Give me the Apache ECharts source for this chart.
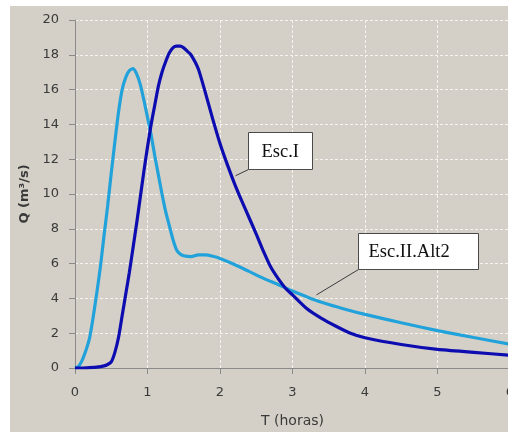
<!DOCTYPE html>
<html>
<head>
<meta charset="utf-8">
<script src="https://cdn.jsdelivr.net/npm/echarts@6/dist/echarts.min.js"></script>
<style>
html,body{margin:0;padding:0;background:#ffffff;width:508px;height:432px;overflow:hidden;}
#chart{position:absolute;left:10px;top:6px;width:498px;height:426px;background:#d4d0c8;}
</style>
</head>
<body>
<div id="chart"></div>
<script>
// Data (T in hours, Q in m3/s)
var tEscI = [0,0.1,0.2,0.3,0.4,0.45,0.5,0.55,0.6,0.65,0.7,0.75,0.8,0.85,0.9,0.95,1.0,1.05,1.1,1.15,1.2,1.25,1.3,1.35,1.4,1.45,1.5,1.55,1.6,1.7,1.8,1.9,2.0,2.1,2.2,2.3,2.4,2.5,2.6,2.7,2.8,2.9,3.0,3.2,3.4,3.6,3.8,4.0,4.5,5.0,5.5,6.0];
var qEscI = [0,0,0.02,0.05,0.12,0.2,0.35,0.9,1.75,3.0,4.25,5.5,6.9,8.3,9.8,11.3,12.7,14.0,15.1,16.2,17.0,17.6,18.1,18.4,18.5,18.5,18.4,18.2,18.0,17.2,15.8,14.3,12.9,11.7,10.6,9.6,8.65,7.7,6.7,5.8,5.15,4.6,4.2,3.4,2.85,2.4,2.0,1.74,1.35,1.07,0.9,0.73];

var tEscII = [0,0.05,0.1,0.15,0.2,0.25,0.3,0.35,0.4,0.45,0.5,0.55,0.6,0.65,0.7,0.75,0.8,0.85,0.9,0.95,1.0,1.05,1.1,1.15,1.2,1.25,1.3,1.35,1.4,1.45,1.5,1.6,1.7,1.8,1.9,2.0,2.2,2.4,2.6,2.8,3.0,3.25,3.5,3.75,4.0,4.5,5.0,5.5,6.0];
var qEscII = [0,0.1,0.45,1.0,1.7,2.9,4.3,5.8,7.6,9.3,11.2,13.0,14.7,16.0,16.7,17.1,17.2,16.9,16.3,15.4,14.4,13.4,12.2,11.1,10.0,9.0,8.2,7.4,6.8,6.55,6.45,6.4,6.5,6.5,6.42,6.3,5.95,5.55,5.15,4.8,4.42,4.0,3.65,3.35,3.08,2.6,2.15,1.75,1.36];

var seriesNames = ['Esc.I','Esc.II.Alt2'];
var xTicks = [0,1,2,3,4,5,6];
var yTicks = [0,2,4,6,8,10,12,14,16,18,20];

function pairs(xs, ys){ return xs.map(function(x,i){ return [x, ys[i]]; }); }

var chart = echarts.init(document.getElementById('chart'), null, {renderer:'canvas'});
var labelFont = {fontFamily:'DejaVu Sans', fontSize:13, color:'#3a3a3a'};
var option = {
  animation:false,
  backgroundColor:'#d4d0c8',
  grid:{left:65, right:-2, top:14, bottom:64, containLabel:false, outerBoundsMode:'none'},
  xAxis:{
    type:'value', min:xTicks[0], max:xTicks[xTicks.length-1], interval:1,
    name:'T (horas)', nameLocation:'middle', nameGap:46,
    nameTextStyle:{fontFamily:'DejaVu Sans', fontSize:14, color:'#3a3a3a'},
    axisLine:{show:true, onZero:false, lineStyle:{color:'#8a8a8a', width:1}},
    axisTick:{show:true, length:6, lineStyle:{color:'#8a8a8a'}},
    axisLabel:Object.assign({margin:18, hideOverlap:false}, labelFont),
    splitLine:{show:true, lineStyle:{color:'#f6f4f0', type:[3,2], width:1}}
  },
  yAxis:{
    type:'value', min:yTicks[0], max:yTicks[yTicks.length-1], interval:2,
    name:'Q (m³/s)', nameLocation:'middle', nameGap:42,
    nameTextStyle:{fontFamily:'DejaVu Sans', fontSize:13, fontWeight:'bold', color:'#3a3a3a'},
    axisLine:{show:true, onZero:false, lineStyle:{color:'#8a8a8a', width:1}},
    axisTick:{show:true, length:6, lineStyle:{color:'#8a8a8a'}},
    axisLabel:Object.assign({margin:16}, labelFont),
    splitLine:{show:true, lineStyle:{color:'#f6f4f0', type:[3,2], width:1}}
  },
  series:[
    {name:seriesNames[1], type:'line', data:pairs(tEscII,qEscII), showSymbol:false, symbol:'none',
     smooth:0.2, clip:true,
     lineStyle:{color:'#22a2da', width:3.2}, z:2},
    {name:seriesNames[0], type:'line', data:pairs(tEscI,qEscI), showSymbol:false, symbol:'none',
     smooth:0.2, clip:true,
     lineStyle:{color:'#0c0cb0', width:3.2}, z:3}
  ]
};
chart.setOption(option);

// Annotation callouts anchored in data coordinates
var callouts = [
  {text:seriesNames[0], box:[2.38,13.56], w:64, h:37, padLeft:13, pointer:[2.215,11.05]},
  {text:seriesNames[1], box:[3.905,7.78], w:120, h:36, padLeft:10, pointer:[3.33,4.2]}
];
var graphics = [];
callouts.forEach(function(c){
  var p = chart.convertToPixel({gridIndex:0}, c.box);
  var q = chart.convertToPixel({gridIndex:0}, c.pointer);
  var x = Math.round(p[0])+0.5, y = Math.round(p[1])+0.5;
  graphics.push({type:'line', shape:{x1:x, y1:y+c.h, x2:q[0], y2:q[1]},
    style:{stroke:'#3c3c3c', lineWidth:1}, z:10});
  graphics.push({type:'rect', shape:{x:x, y:y, width:c.w, height:c.h},
    style:{fill:'#ffffff', stroke:'#4a4a4a', lineWidth:1}, z:11});
  graphics.push({type:'text', x:x+c.padLeft, y:y+c.h/2+1,
    style:{text:c.text, fill:'#111111', font:'18.5px "Liberation Serif"', verticalAlign:'middle', align:'left'}, z:12});
});
chart.setOption({graphic:graphics});
</script>
</body>
</html>
